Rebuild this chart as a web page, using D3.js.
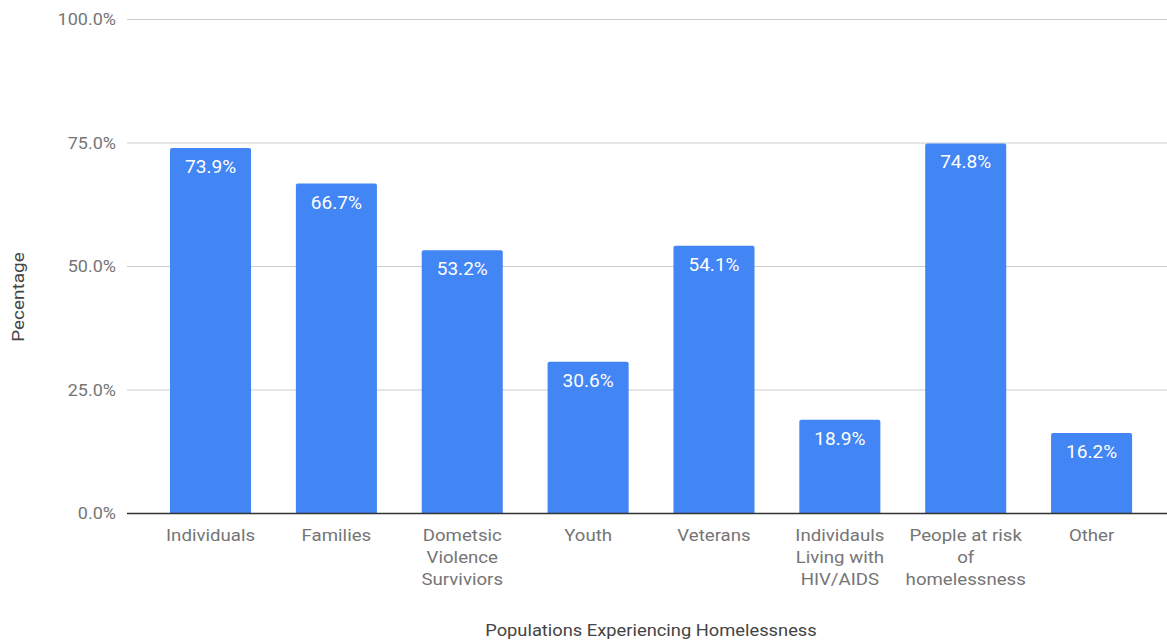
<!DOCTYPE html>
<html><head><meta charset="utf-8">
<script src="https://cdn.jsdelivr.net/npm/d3@7"></script>
<style>body{margin:0;background:#fff}svg{display:block;font-family:Roboto,sans-serif}</style>
</head><body><svg id="c" width="1167" height="641"></svg>
<script>
const categories = ["Individuals","Families","Dometsic Violence Surviviors","Youth","Veterans","Individauls Living with HIV/AIDS","People at risk of homelessness","Other"];
const categoryLines = [["Individuals"],["Families"],["Dometsic","Violence","Surviviors"],["Youth"],["Veterans"],["Individauls","Living with","HIV/AIDS"],["People at risk","of","homelessness"],["Other"]];
const values = [73.9,66.7,53.2,30.6,54.1,18.9,74.8,16.2];
const yTicks = [0,25,50,75,100];

const svg = d3.select("#c");
const x = d3.scaleBand().domain(categories).range([147.6,1154.5]).paddingInner(0.356).paddingOuter(0.178);
const y = d3.scaleLinear().domain([0,100]).range([513,19]);

function stretched(sel, px, py, sx){
  return sel.attr("transform",(d,i)=>`translate(${px(d,i)},${py(d,i)}) scale(${sx},1)`);
}

// gridlines
svg.append("g").selectAll("line").data(yTicks.filter(d=>d>0)).join("line")
  .attr("x1",127).attr("x2",1167).attr("y1",d=>y(d)+0.5).attr("y2",d=>y(d)+0.5)
  .attr("stroke","#cccccc").attr("stroke-width",1);
// y tick labels
stretched(svg.append("g").selectAll("text").data(yTicks).join("text"),
  d=>116, d=>y(d)+6, 1.06)
  .attr("text-anchor","end").attr("font-size",17).attr("fill","#757575").text(d=>d.toFixed(1)+"%");

// bars
const r=2;
svg.append("g").selectAll("path").data(values).join("path")
  .attr("fill","#4285f4")
  .attr("d",(d,i)=>{const x0=x(categories[i]),w=x.bandwidth(),y0=y(d),b=y(0);
    return `M${x0},${b}V${y0+r}Q${x0},${y0} ${x0+r},${y0}H${x0+w-r}Q${x0+w},${y0} ${x0+w},${y0+r}V${b}Z`;});
// bar labels
stretched(svg.append("g").selectAll("text").data(values).join("text"),
  (d,i)=>x(categories[i])+x.bandwidth()/2, d=>y(d)+25, 1.09)
  .attr("text-anchor","middle").attr("font-size",17.5).attr("fill","#ffffff")
  .text(d=>d.toFixed(1)+"%");

// baseline
svg.append("line").attr("x1",127).attr("x2",1167).attr("y1",y(0)+0.5).attr("y2",y(0)+0.5)
  .attr("stroke","#333333").attr("stroke-width",1.5);

// x labels
const xl = stretched(svg.append("g").selectAll("text").data(categories).join("text"),
  d=>x(d)+x.bandwidth()/2, d=>541, 1.13)
  .attr("text-anchor","middle").attr("font-size",16.5).attr("fill","#757575");
xl.each(function(d,i){
  const t=d3.select(this);
  categoryLines[i].forEach((ln,j)=>t.append("tspan").attr("x",0).attr("y",j*22).text(ln));
});

// axis titles
svg.append("text").attr("transform","translate(651,636) scale(1.11,1)").attr("text-anchor","middle")
  .attr("font-size",16.5).attr("fill","#444444").text("Populations Experiencing Homelessness");
svg.append("text").attr("transform","translate(24,297) rotate(-90) scale(1.15,1)").attr("text-anchor","middle")
  .attr("font-size",16.5).attr("fill","#444444").text("Pecentage");
</script></body></html>
